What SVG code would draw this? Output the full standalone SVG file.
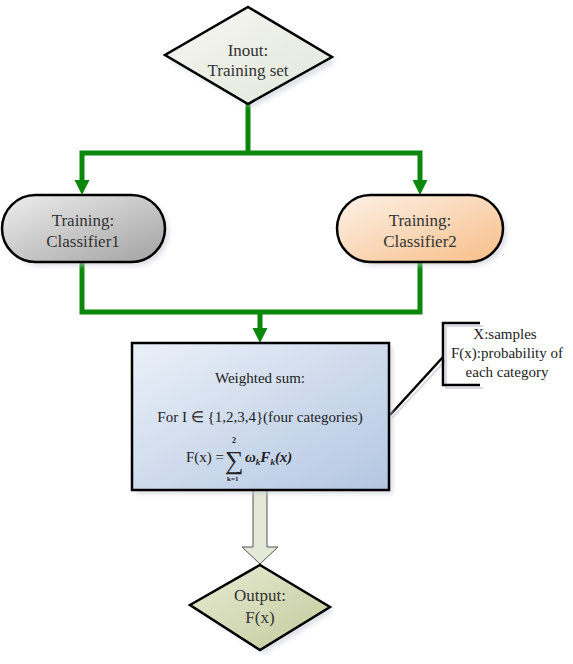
<svg xmlns="http://www.w3.org/2000/svg" width="573" height="664" viewBox="0 0 573 664">
<defs>
<linearGradient id="gTop" x1="0" y1="0" x2="1" y2="1"><stop offset="0" stop-color="#f6f7f2"/><stop offset="1" stop-color="#e2e6da"/></linearGradient>
<linearGradient id="gGray" x1="0" y1="0" x2="1" y2="1"><stop offset="0" stop-color="#eeeeee"/><stop offset="1" stop-color="#a2a2a2"/></linearGradient>
<linearGradient id="gPeach" x1="0" y1="0" x2="1" y2="1"><stop offset="0" stop-color="#fdf2e8"/><stop offset="1" stop-color="#f7be88"/></linearGradient>
<linearGradient id="gBlue" x1="0" y1="0" x2="1" y2="1"><stop offset="0" stop-color="#eaf0f8"/><stop offset="1" stop-color="#b4c7e2"/></linearGradient>
<linearGradient id="gOlive" x1="0" y1="0" x2="1" y2="1"><stop offset="0" stop-color="#e8ecd4"/><stop offset="1" stop-color="#c2ca9c"/></linearGradient>
<filter id="sh" x="-20%" y="-20%" width="140%" height="140%"><feGaussianBlur stdDeviation="2"/></filter>
</defs>
<style>
.node{stroke:#000;stroke-width:2.5}
.shadow{fill:#c8ccd4;opacity:0.6;filter:url(#sh)}
.lbl{font-family:"Liberation Serif","Times New Roman",serif;font-size:17px;fill:#333;text-anchor:middle}
.txt{font-family:"Liberation Serif","Times New Roman",serif;font-size:15px;fill:#222;text-anchor:middle}
.math{font-family:"Liberation Serif","Times New Roman",serif;fill:#222}
.gline{fill:none;stroke:#0b870b;stroke-width:5}
.ghead{fill:#0b870b}
</style>

<g id="connectors">
<path class="gline" d="M248,104 V153 M82,181 V153 H420 V181"/>
<polygon class="ghead" points="74.5,180 89.5,180 82,195"/>
<polygon class="ghead" points="412.5,180 427.5,180 420,195"/>
<path class="gline" d="M82,262 V312 H420 V262 M260,312 V329"/>
<polygon class="ghead" points="252.5,328 267.5,328 260,343"/>
<polygon points="253,490 267,490 267,547 278,547 260,564 242,547 253,547" fill="#e4e8d6" stroke="#555" stroke-width="1"/>
<path d="M392,418 L446,360" stroke="#d8dce2" stroke-width="2" fill="none"/>
<path d="M390,415 L443,357" stroke="#000" stroke-width="2.5" fill="none"/>
</g>

<g id="input">
<polygon class="shadow" points="252,11 336,62 252,108 169,60"/>
<polygon class="node" fill="url(#gTop)" points="248,7 332,57 248,104 165,55"/>
<text class="lbl" x="248" y="56">Inout:</text>
<text class="lbl" x="248" y="76">Training set</text>
</g>

<g id="classifier1">
<rect class="shadow" x="6" y="199" width="163" height="67" rx="33.5"/>
<rect class="node" fill="url(#gGray)" x="2" y="195" width="163" height="67" rx="33.5"/>
<text class="lbl" x="83" y="226">Training:</text>
<text class="lbl" x="83" y="247">Classifier1</text>
</g>

<g id="classifier2">
<rect class="shadow" x="341" y="199" width="166" height="67" rx="33.5"/>
<rect class="node" fill="url(#gPeach)" x="337" y="195" width="166" height="67" rx="33.5"/>
<text class="lbl" x="420" y="226">Training:</text>
<text class="lbl" x="420" y="247">Classifier2</text>
</g>

<g id="weighted-sum">
<rect class="shadow" x="136" y="347" width="257" height="147"/>
<rect class="node" fill="url(#gBlue)" x="132" y="343" width="257" height="147"/>
<text class="txt" x="260" y="383">Weighted sum:</text>
<text class="txt" x="260" y="422">For I ∈ {1,2,3,4}(four categories)</text>
<text class="math" font-size="15" x="186" y="462">F(x) =</text>
<text class="math" font-size="26" x="225" y="469">∑</text>
<text class="math" font-size="8" font-weight="bold" x="232" y="443">2</text>
<text class="math" font-size="7" font-weight="bold" x="227" y="481">k=1</text>
<text class="math" font-size="15" font-weight="bold" font-style="italic" x="245" y="462">ω<tspan font-size="9" dy="3">k</tspan><tspan dy="-3">F</tspan><tspan font-size="9" dy="3">k</tspan><tspan dy="-3">(x)</tspan></text>
</g>

<g id="note">
<path d="M483,326 H446 V388 H483" stroke="#d8dce2" stroke-width="2" fill="none"/>
<path d="M480,323 H443 V385 H480" stroke="#000" stroke-width="2.5" fill="none"/>
<text class="txt" font-size="14" x="505" y="339">X:samples</text>
<text class="txt" font-size="14" x="507" y="358">F(x):probability of</text>
<text class="txt" font-size="14" x="507" y="377">each category</text>
</g>

<g id="output">
<polygon class="shadow" points="264,569 334,611 264,654 194,609"/>
<polygon class="node" fill="url(#gOlive)" points="260,565 330,607 260,650 190,605"/>
<text class="lbl" x="260" y="601">Output:</text>
<text class="lbl" x="260" y="623">F(x)</text>
</g>
</svg>
